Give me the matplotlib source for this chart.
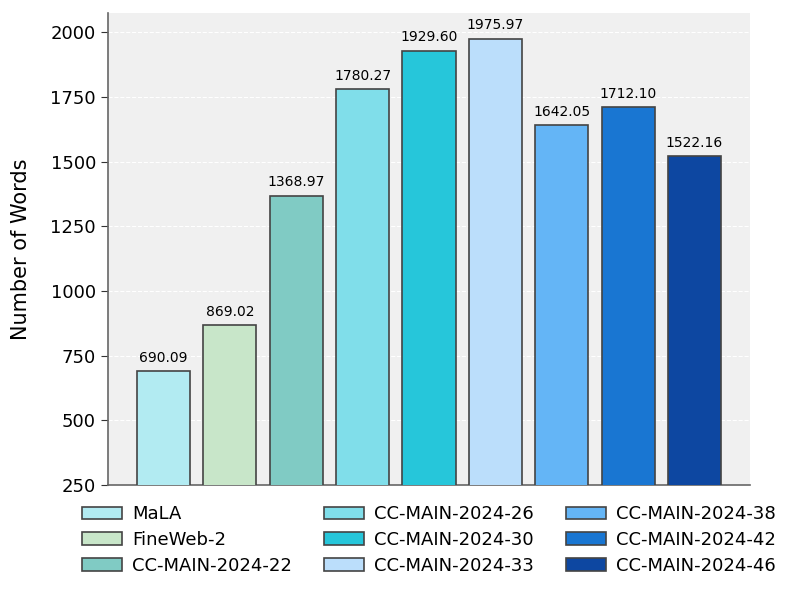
import matplotlib
matplotlib.use("Agg")
import matplotlib.pyplot as plt

categories = ["MaLA", "FineWeb-2", "CC-MAIN-2024-22", "CC-MAIN-2024-26", "CC-MAIN-2024-30",
              "CC-MAIN-2024-33", "CC-MAIN-2024-38", "CC-MAIN-2024-42", "CC-MAIN-2024-46"]
values = [690.09, 869.02, 1368.97, 1780.27, 1929.60, 1975.97, 1642.05, 1712.10, 1522.16]
colors = ["#B2EBF2", "#C8E6C9", "#80CBC4", "#80DEEA", "#26C6DA",
          "#BBDEFB", "#64B5F6", "#1976D2", "#0D47A1"]
ylabel = "Number of Words"

fig = plt.figure(figsize=(7.93, 5.94), dpi=100)
ax = fig.add_axes([0.136, 0.1835, 0.81, 0.7945])
ax.set_facecolor("#f0f0f0")
x = list(range(len(categories)))
bars = ax.bar(x, values, width=0.8, color=colors, edgecolor="#444444", linewidth=1.2,
              label=categories, zorder=3)
for b, v in zip(bars, values):
    ax.text(b.get_x() + b.get_width() / 2, v + 24, f"{v:.2f}", ha="center", va="bottom",
            fontsize=10, zorder=4)
ax.set_ylim(250, max(values) * 1.05)
ax.set_yticks([250, 500, 750, 1000, 1250, 1500, 1750, 2000])
ax.set_xticks([])
ax.grid(axis="y", color="white", linestyle="--", linewidth=0.8, zorder=0)
ax.set_axisbelow(True)
for s in ["top", "right"]:
    ax.spines[s].set_visible(False)
for s in ["left", "bottom"]:
    ax.spines[s].set_color("#666666")
    ax.spines[s].set_linewidth(1.2)
ax.tick_params(axis="y", labelsize=13, color="#333333", length=5)
ax.set_ylabel(ylabel, fontsize=15, labelpad=14)
ax.legend(loc="upper center", bbox_to_anchor=(0.5, -0.009), ncol=3, frameon=False,
          fontsize=13, handlelength=2.2, handletextpad=0.55, columnspacing=1.8,
          labelspacing=0.42)
fig.savefig("out.png", dpi=100)
